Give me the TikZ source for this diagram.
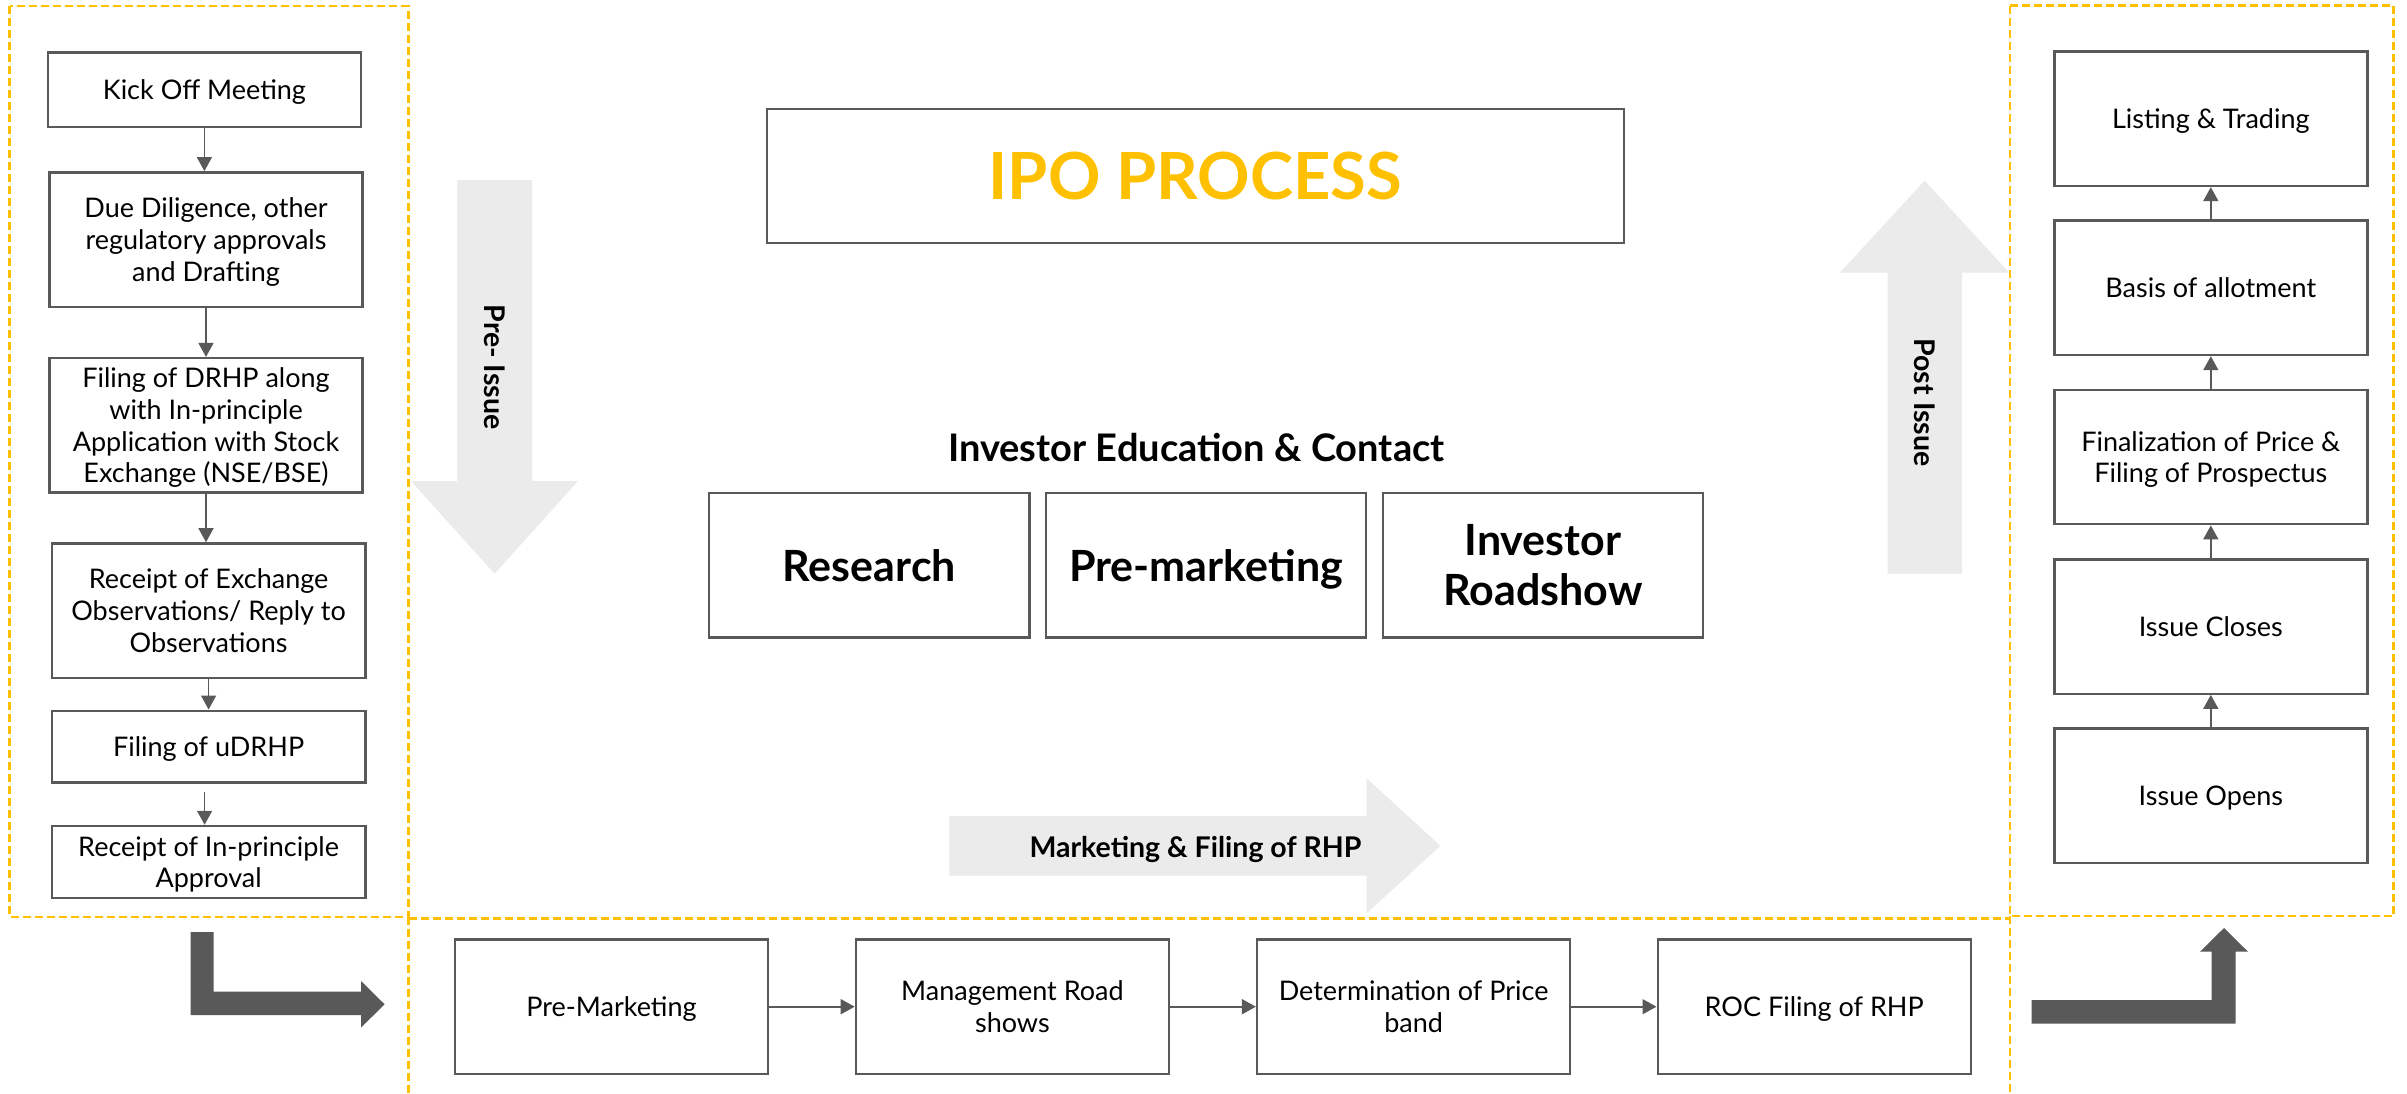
\documentclass[tikz,border=0pt]{standalone}
\usepackage{fontspec}
\setmainfont{Lato}
\usetikzlibrary{arrows.meta}
\definecolor{ipoyellow}{HTML}{FFC000}
\definecolor{edgegray}{HTML}{595959}
\definecolor{lightarrow}{HTML}{EBEBEB}
\definecolor{darkarrow}{HTML}{595959}
\begin{document}
\begin{tikzpicture}[x=1pt,y=-1pt,
 pbox/.style={draw=edgegray, line width=2.4pt, fill=white, align=center, inner sep=0pt, text depth=0pt, font=\fontsize{27}{31.7}\selectfont},
 colbox/.style={pbox, minimum width=313pt, minimum height=134.4pt},
 bigbox/.style={pbox, minimum width=320.5pt, minimum height=144.3pt, font=\fontsize{43}{50}\selectfont\bfseries},
 conn/.style={draw=edgegray, line width=1.6pt, -{Triangle[length=14pt,width=15pt]}},
 zone/.style={draw=ipoyellow, line width=2.6pt, dash pattern=on 8pt off 4pt},
 bandarrow/.style={fill=lightarrow, draw=none},
 elbow/.style={fill=darkarrow, draw=none},
 bandtext/.style={font=\fontsize{28.5}{32}\selectfont\bfseries, inner sep=0pt}
]
\useasboundingbox (0,0) rectangle (2407,1093);
\fill[white] (0,0) rectangle (2407,1093);

% dashed zones
\draw[zone] (9.6,6) rectangle (408.5,917);
\draw[zone] (2010,5.5) rectangle (2393.5,916);
\draw[zone] (408.5,917) -- (408.5,1093);
\draw[zone] (408.5,918.5) -- (2010,918.5);
\draw[zone] (2010,916) -- (2010,1093);

% light band arrows
\fill[bandarrow] (457.3,180) -- (532,180) -- (532,481) -- (578,481) -- (494.6,573.7) -- (411,481) -- (457.3,481) -- cycle;
\node[bandtext, rotate=-90] (pre) at (494.6,367) {Pre- Issue};
\fill[bandarrow] (1887.5,573.5) -- (1887.5,272.5) -- (1840,272.5) -- (1924.7,180.6) -- (2009,272.5) -- (1961.8,272.5) -- (1961.8,573.5) -- cycle;
\node[bandtext, rotate=-90] (post) at (1924.7,402.5) {Post Issue};
\fill[bandarrow] (949.3,816) -- (1366.7,816) -- (1366.7,778.3) -- (1440.3,845.8) -- (1366.7,913.3) -- (1366.7,875.7) -- (949.3,875.7) -- cycle;
\node[bandtext, anchor=base] (mkt) at (1195.5,857) {Marketing \& Filing of RHP};

% dark elbow arrows
\fill[elbow] (190.6,932) -- (213.5,932) -- (213.5,991.7) -- (361,991.7) -- (361,981) -- (384.6,1004.3) -- (361,1027.6) -- (361,1015) -- (190.6,1015) -- cycle;
\fill[elbow] (2031.5,1000) -- (2211.5,1000) -- (2211.5,951.7) -- (2200,951.7) -- (2224,928) -- (2248,951.7) -- (2235.5,951.7) -- (2235.5,1023.7) -- (2031.5,1023.7) -- cycle;

% left column
\node[colbox, minimum height=74.4pt] (l1) at (204.4,89.5) {Kick Off Meeting};
\node[colbox] (l2) at (206,239.5) {Due Diligence, other\\regulatory approvals\\and Drafting};
\node[colbox] (l3) at (206,425.3) {Filing of DRHP along\\with In-principle\\Application with Stock\\Exchange (NSE/BSE)};
\node[colbox, minimum width=313.8pt] (l4) at (208.6,610.6) {Receipt of Exchange\\Observations/ Reply to\\Observations};
\node[colbox, minimum width=313.8pt, minimum height=71.8pt] (l5) at (208.6,746.6) {Filing of uDRHP};
\node[colbox, minimum width=313.8pt, minimum height=72.3pt] (l6) at (208.6,862.1) {Receipt of In-principle\\Approval};
\draw[conn] (l1.south) -- (l1.south |- l2.north);
\draw[conn] (l2.south) -- (l2.south |- l3.north);
\draw[conn] (l3.south) -- (l3.south |- l4.north);
\draw[conn] (l4.south) -- (l4.south |- l5.north);
\draw[conn, shorten <=8pt] ([xshift=-4pt]l5.south) -- ([xshift=-4pt]l5.south |- l6.north);

% centre
\node[pbox, minimum width=857pt, minimum height=134pt, text=ipoyellow, font=\fontsize{65}{70}\selectfont\bfseries] (ipo) at (1195.25,175.85) {IPO PROCESS};
\node[anchor=base, inner sep=0pt, font=\fontsize{38}{44}\selectfont\bfseries] (iec) at (1196.4,461) {Investor Education \& Contact};
\node[bigbox] (c1) at (869.3,565.35) {Research};
\node[bigbox] (c2) at (1206,565.35) {Pre-marketing};
\node[bigbox] (c3) at (1543,565.35) {Investor\\Roadshow};

% bottom row
\node[colbox, minimum height=134.7pt] (b1) at (611.5,1006.7) {Pre-Marketing};
\node[colbox, minimum height=134.7pt] (b2) at (1012.4,1006.7) {Management Road\\shows};
\node[colbox, minimum height=134.7pt] (b3) at (1413.6,1006.7) {Determination of Price\\band};
\node[colbox, minimum height=134.7pt] (b4) at (1814.2,1006.7) {ROC Filing of RHP};
\draw[conn] (b1.east) -- (b2.west);
\draw[conn] (b2.east) -- (b3.west);
\draw[conn] (b3.east) -- (b4.west);

% right column
\node[colbox] (r1) at (2210.8,118.75) {Listing \& Trading};
\node[colbox] (r2) at (2210.8,287.8) {Basis of allotment};
\node[colbox] (r3) at (2210.8,457) {Finalization of Price \&\\Filing of Prospectus};
\node[colbox] (r4) at (2210.8,626.5) {Issue Closes};
\node[colbox] (r5) at (2210.8,795.5) {Issue Opens};
\draw[conn] (r5.north) -- (r5.north |- r4.south);
\draw[conn] (r4.north) -- (r4.north |- r3.south);
\draw[conn] (r3.north) -- (r3.north |- r2.south);
\draw[conn] (r2.north) -- (r2.north |- r1.south);
\end{tikzpicture}
\end{document}
